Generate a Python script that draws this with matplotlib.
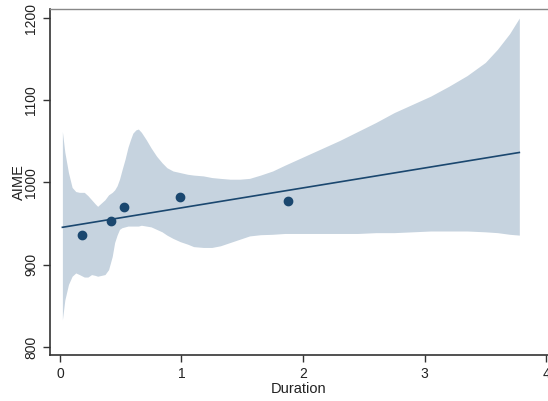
import matplotlib
matplotlib.use("Agg")
import matplotlib.pyplot as plt

plt.rcParams['font.family'] = ['Liberation Sans', 'DejaVu Sans']

# scatter points (binned means)
duration = [0.18, 0.42, 0.53, 0.99, 1.88]
aime = [936.5, 953.5, 970.5, 982.5, 978.0]

# linear fit
fit_x = [0.02, 3.78]
fit_y = [945.5, 1036.5]

# confidence band
band_x = [0.02, 0.04, 0.07, 0.10, 0.13, 0.16, 0.20, 0.23, 0.26, 0.29, 0.31,
          0.34, 0.37, 0.40, 0.43, 0.45, 0.47, 0.49, 0.51, 0.535, 0.56, 0.58,
          0.60, 0.625, 0.645, 0.67, 0.71, 0.75, 0.795, 0.84, 0.88, 0.93, 0.99,
          1.05, 1.10, 1.18, 1.25, 1.32, 1.40, 1.48, 1.56, 1.65, 1.75, 1.85,
          2.00, 2.15, 2.30, 2.45, 2.60, 2.75, 2.90, 3.05, 3.20, 3.35, 3.50,
          3.60, 3.70, 3.78]
band_hi = [1062, 1037, 1012, 994, 989, 988, 988, 984, 979, 974, 971,
           975, 979, 985, 988, 991, 996, 1004, 1015, 1028, 1043, 1052,
           1060, 1064, 1065, 1061, 1052, 1042, 1032, 1024, 1018, 1014, 1012,
           1010, 1009, 1008, 1006, 1005, 1004, 1004, 1005, 1009, 1014, 1021,
           1031, 1041, 1051, 1062, 1073, 1085, 1095, 1105, 1117, 1130, 1146,
           1162, 1181, 1200]
band_lo = [833, 857, 876, 886, 890, 888, 885, 885, 888, 887, 886,
           887, 888, 894, 910, 927, 936, 943, 945, 946, 947, 947,
           947, 947, 947, 948, 947, 946, 943, 940, 936, 932, 928,
           925, 922, 921, 921, 923, 927, 931, 935, 936.5, 937, 938,
           938, 938, 938, 938, 939, 939, 940, 941, 941, 941, 940,
           939, 937, 936]

band_col = '#c6d3df'
navy = '#1a476f'

fig = plt.figure(figsize=(5.48, 4.01), dpi=100)
ax = fig.add_axes([50 / 548, 46 / 401, 498 / 548, 346 / 401])

ax.fill_between(band_x, band_lo, band_hi, color=band_col, lw=0)
ax.plot(fit_x, fit_y, color=navy, lw=1.2)
ax.plot(duration, aime, 'o', color=navy, ms=6, mec=navy)

ax.set_xlim(-0.082, 4.016)
ax.set_ylim(790.2, 1211)
ax.set_xticks([0, 1, 2, 3, 4])
ax.set_yticks([800, 900, 1000, 1100, 1200])
ax.tick_params(axis='both', direction='out', length=5, width=1, colors='#333333',
               labelsize=10, labelcolor='#222222')
for lab in ax.get_yticklabels():
    lab.set_rotation(90)
    lab.set_va('center')

for s in ['left', 'bottom']:
    ax.spines[s].set_color('#333333')
    ax.spines[s].set_linewidth(1.2)
ax.spines['top'].set_color('#888888')
ax.spines['top'].set_linewidth(1.0)
ax.spines['right'].set_visible(False)

ax.set_xlabel('Duration', fontsize=10.5, labelpad=1, color='#222222')
ax.set_ylabel('AIME', fontsize=10.5, labelpad=-1, color='#222222')

fig.savefig('out.png', dpi=100)
